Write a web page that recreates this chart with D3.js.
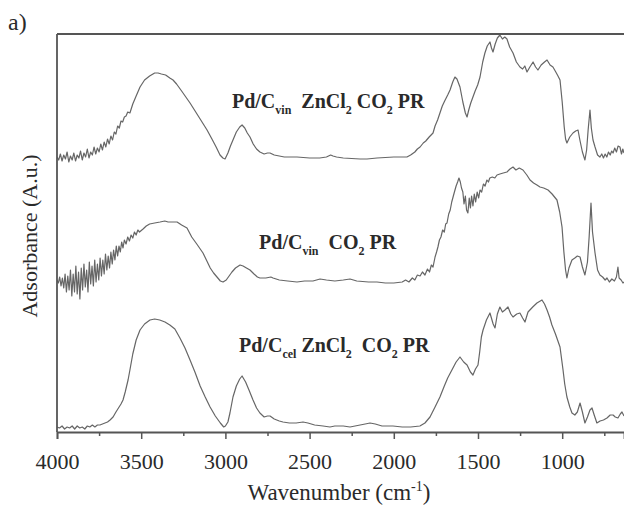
<!DOCTYPE html>
<html><head><meta charset="utf-8">
<script src="https://cdn.jsdelivr.net/npm/d3@7"></script>
<style>
html,body{margin:0;padding:0;background:#fff;}
svg{display:block;}
text{font-family:"Liberation Serif","Times New Roman",serif;fill:#2a2a2a;}
</style></head><body>
<svg id="chart" width="624" height="506"></svg>
<script>
// Wavenumber ticks
const majorTicks = [4000, 3500, 3000, 2500, 2000, 1500, 1000];
const minorTicks = [3750, 3250, 2750, 2250, 1750, 1250, 750];

// Series: [wavenumber (cm-1), absorbance (a.u., stacked)]
const seriesTop = [
[4000,2.75],[3990,2.72],[3980,2.78],[3970,2.71],[3960,2.77],[3950,2.73],[3940,2.80],[3930,2.70],[3920,2.76],[3910,2.72],[3900,2.79],[3890,2.71],[3880,2.77],[3870,2.74],[3860,2.81],[3850,2.72],[3840,2.79],[3830,2.75],[3820,2.83],[3810,2.74],[3800,2.80],[3790,2.77],[3780,2.85],[3770,2.78],[3760,2.84],[3750,2.80],[3740,2.88],[3730,2.82],[3720,2.90],[3710,2.85],[3700,2.93],[3690,2.88],[3680,2.96],[3670,2.92],[3660,3.00],[3650,2.98],[3640,3.06],[3630,3.04],[3620,3.11],[3610,3.10],[3600,3.15],[3590,3.16],[3580,3.20],[3567,3.19],[3550,3.28],[3530,3.36],[3507,3.45],[3480,3.52],[3450,3.56],[3420,3.59],[3400,3.59],[3380,3.58],[3355,3.57],[3330,3.54],[3311,3.52],[3290,3.48],[3260,3.41],[3235,3.35],[3210,3.29],[3180,3.21],[3150,3.13],[3109,3.02],[3080,2.93],[3055,2.85],[3032,2.77],[3015,2.74],[3002,2.73],[2985,2.79],[2970,2.86],[2955,2.92],[2935,3.00],[2915,3.05],[2901,3.07],[2885,3.04],[2870,2.99],[2854,2.95],[2835,2.88],[2815,2.83],[2795,2.80],[2770,2.78],[2750,2.79],[2735,2.79],[2710,2.77],[2650,2.75],[2575,2.75],[2500,2.74],[2440,2.74],[2400,2.75],[2375,2.77],[2361,2.76],[2340,2.75],[2300,2.74],[2200,2.73],[2159,2.73],[2100,2.74],[2000,2.75],[1922,2.75],[1900,2.77],[1875,2.80],[1860,2.83],[1844,2.85],[1825,2.89],[1810,2.91],[1790,2.95],[1767,2.99],[1755,3.06],[1740,3.12],[1726,3.19],[1712,3.26],[1698,3.31],[1680,3.37],[1666,3.42],[1650,3.50],[1637,3.55],[1625,3.53],[1607,3.45],[1590,3.30],[1575,3.19],[1565,3.15],[1555,3.22],[1543,3.29],[1530,3.35],[1517,3.41],[1502,3.47],[1488,3.55],[1472,3.70],[1459,3.79],[1445,3.86],[1429,3.90],[1420,3.84],[1411,3.80],[1398,3.88],[1385,3.94],[1370,3.97],[1355,3.93],[1341,3.95],[1328,3.93],[1312,3.85],[1292,3.79],[1272,3.70],[1251,3.65],[1235,3.63],[1222,3.66],[1209,3.60],[1192,3.65],[1173,3.70],[1158,3.65],[1144,3.62],[1125,3.67],[1105,3.70],[1090,3.72],[1072,3.67],[1055,3.65],[1038,3.60],[1025,3.56],[1013,3.52],[1000,3.30],[988,3.05],[980,2.93],[972,2.89],[955,2.95],[936,2.99],[920,3.01],[906,3.02],[895,2.92],[880,2.80],[865,2.72],[855,2.82],[846,3.02],[835,3.22],[827,3.04],[817,2.92],[805,2.85],[790,2.77],[776,2.75],[765,2.78],[755,2.74],[745,2.78],[735,2.75],[725,2.80],[715,2.77],[706,2.81],[698,2.79],[688,2.84],[678,2.80],[668,2.86],[657,2.85],[648,2.78],[640,2.83],[633,2.79]
];

const seriesMid = [
[4000,1.52],[3992,1.49],[3984,1.55],[3976,1.46],[3968,1.54],[3960,1.44],[3952,1.58],[3944,1.40],[3936,1.56],[3928,1.42],[3920,1.62],[3912,1.36],[3904,1.58],[3896,1.40],[3888,1.66],[3880,1.38],[3872,1.60],[3864,1.33],[3856,1.64],[3848,1.42],[3840,1.68],[3832,1.45],[3824,1.62],[3816,1.40],[3808,1.70],[3800,1.48],[3792,1.66],[3784,1.46],[3776,1.72],[3768,1.50],[3760,1.68],[3752,1.52],[3744,1.74],[3736,1.56],[3728,1.72],[3720,1.58],[3712,1.78],[3704,1.62],[3696,1.76],[3688,1.64],[3680,1.80],[3672,1.68],[3664,1.82],[3656,1.72],[3648,1.86],[3640,1.76],[3632,1.86],[3624,1.80],[3616,1.90],[3608,1.84],[3600,1.92],[3590,1.88],[3580,1.95],[3570,1.91],[3560,1.97],[3550,1.94],[3540,2.00],[3530,1.97],[3520,2.02],[3510,2.00],[3489,2.03],[3470,2.06],[3450,2.08],[3420,2.09],[3388,2.10],[3360,2.11],[3340,2.10],[3310,2.10],[3287,2.10],[3260,2.07],[3228,2.04],[3200,1.95],[3170,1.88],[3133,1.79],[3110,1.71],[3090,1.64],[3070,1.59],[3050,1.55],[3030,1.51],[3014,1.50],[2995,1.52],[2978,1.56],[2961,1.60],[2940,1.64],[2913,1.67],[2895,1.66],[2875,1.64],[2854,1.62],[2830,1.58],[2810,1.55],[2795,1.54],[2760,1.54],[2730,1.55],[2717,1.54],[2680,1.52],[2630,1.51],[2575,1.50],[2530,1.51],[2480,1.51],[2438,1.53],[2400,1.52],[2350,1.51],[2300,1.52],[2260,1.53],[2220,1.51],[2150,1.50],[2100,1.50],[2050,1.49],[2000,1.49],[1950,1.50],[1930,1.52],[1910,1.50],[1890,1.54],[1875,1.52],[1860,1.57],[1844,1.56],[1830,1.60],[1815,1.57],[1800,1.63],[1788,1.60],[1777,1.67],[1767,1.65],[1755,1.75],[1746,1.80],[1738,1.85],[1729,1.92],[1720,1.95],[1710,2.02],[1700,2.00],[1692,2.08],[1684,2.09],[1674,2.18],[1665,2.22],[1656,2.30],[1648,2.35],[1640,2.40],[1630,2.46],[1621,2.50],[1613,2.54],[1605,2.50],[1598,2.44],[1590,2.40],[1583,2.28],[1575,2.36],[1568,2.22],[1560,2.19],[1552,2.34],[1545,2.24],[1538,2.36],[1530,2.26],[1522,2.38],[1514,2.30],[1505,2.40],[1496,2.34],[1488,2.42],[1478,2.40],[1468,2.48],[1458,2.46],[1447,2.52],[1438,2.50],[1430,2.54],[1415,2.55],[1400,2.54],[1387,2.57],[1370,2.58],[1350,2.59],[1328,2.60],[1310,2.63],[1292,2.65],[1275,2.62],[1255,2.64],[1233,2.62],[1210,2.57],[1191,2.52],[1170,2.49],[1150,2.47],[1132,2.45],[1110,2.44],[1084,2.42],[1060,2.38],[1031,2.32],[1015,2.20],[1001,2.05],[990,1.80],[980,1.62],[972,1.54],[960,1.64],[942,1.72],[925,1.74],[910,1.76],[894,1.75],[880,1.65],[865,1.57],[850,1.70],[840,1.95],[829,2.29],[820,2.00],[805,1.79],[790,1.62],[776,1.57],[760,1.55],[745,1.52],[734,1.54],[720,1.50],[705,1.53],[690,1.51],[678,1.55],[669,1.65],[662,1.54],[650,1.52],[639,1.49],[633,1.50]
];

const seriesBot = [
[4000,0.05],[3985,0.04],[3970,0.06],[3955,0.03],[3940,0.05],[3925,0.04],[3910,0.06],[3895,0.03],[3880,0.06],[3865,0.04],[3850,0.05],[3835,0.03],[3820,0.06],[3805,0.05],[3790,0.07],[3775,0.05],[3760,0.07],[3745,0.07],[3730,0.08],[3715,0.09],[3700,0.10],[3685,0.12],[3667,0.15],[3650,0.20],[3635,0.24],[3620,0.28],[3608,0.32],[3595,0.40],[3578,0.52],[3567,0.62],[3550,0.78],[3530,0.92],[3507,1.02],[3480,1.08],[3448,1.12],[3420,1.13],[3390,1.12],[3359,1.10],[3330,1.07],[3300,1.03],[3270,0.94],[3240,0.84],[3210,0.72],[3181,0.60],[3150,0.46],[3120,0.35],[3091,0.25],[3060,0.16],[3030,0.09],[3010,0.05],[3000,0.06],[2985,0.10],[2973,0.19],[2955,0.35],[2935,0.46],[2915,0.53],[2901,0.56],[2880,0.50],[2860,0.42],[2836,0.32],[2815,0.24],[2795,0.19],[2770,0.15],[2750,0.16],[2735,0.16],[2710,0.13],[2680,0.11],[2658,0.10],[2620,0.09],[2580,0.09],[2539,0.10],[2510,0.09],[2470,0.07],[2420,0.06],[2379,0.05],[2350,0.06],[2300,0.06],[2260,0.05],[2230,0.06],[2200,0.07],[2170,0.08],[2141,0.09],[2110,0.08],[2070,0.06],[2040,0.06],[2005,0.06],[1950,0.05],[1900,0.05],[1845,0.06],[1815,0.09],[1785,0.15],[1755,0.25],[1726,0.35],[1700,0.46],[1680,0.54],[1655,0.62],[1630,0.70],[1607,0.75],[1585,0.70],[1565,0.67],[1545,0.60],[1530,0.57],[1515,0.63],[1500,0.67],[1490,0.80],[1480,0.95],[1470,1.02],[1450,1.12],[1429,1.19],[1410,1.08],[1399,1.04],[1385,1.18],[1370,1.25],[1355,1.20],[1340,1.22],[1322,1.25],[1305,1.18],[1292,1.15],[1270,1.18],[1251,1.19],[1235,1.14],[1221,1.10],[1203,1.20],[1175,1.25],[1150,1.29],[1120,1.32],[1105,1.28],[1090,1.22],[1075,1.15],[1061,1.07],[1040,0.98],[1013,0.85],[995,0.62],[985,0.48],[972,0.35],[955,0.25],[942,0.19],[925,0.17],[910,0.20],[894,0.29],[880,0.20],[865,0.09],[850,0.15],[835,0.22],[823,0.24],[810,0.17],[794,0.09],[775,0.11],[755,0.12],[734,0.14],[715,0.17],[698,0.17],[685,0.15],[669,0.14],[655,0.18],[645,0.20],[633,0.16]
];

const labels = [
  {parts:[["Pd/C",0],["vin",1],["\u00a0 ZnCl",0],["2",1],["\u00a0CO",0],["2",1],["\u00a0PR",0]], w:2961, a:3.24},
  {parts:[["Pd/C",0],["vin",1],["\u00a0 CO",0],["2",1],["\u00a0PR",0]], w:2800, a:1.83},
  {parts:[["Pd/C",0],["cel",1],["\u00a0ZnCl",0],["2",1],["\u00a0\u00a0CO",0],["2",1],["\u00a0PR",0]], w:2919, a:0.80}
];

const W = 624, H = 506;
const M = {left:57, top:34, right:624, bottom:432};
const svg = d3.select("#chart");

const x = d3.scaleLinear().domain([4000, 633]).range([M.left, M.right]);
const y = d3.scaleLinear().domain([0, 3.98]).range([M.bottom, M.top]);

svg.append("defs").append("clipPath").attr("id","clip")
  .append("rect").attr("x",M.left).attr("y",M.top-2).attr("width",M.right-M.left).attr("height",M.bottom-M.top+2);

const line = d3.line().x(d=>x(d[0])).y(d=>y(d[1]));
const g = svg.append("g").attr("clip-path","url(#clip)");
[seriesTop, seriesMid, seriesBot].forEach(s=>{
  g.append("path").datum(s).attr("d",line)
   .attr("fill","none").attr("stroke","#666").attr("stroke-width",1.2)
   .attr("stroke-linejoin","round");
});

// frame: top and left
svg.append("line").attr("x1",M.left).attr("x2",W).attr("y1",M.top).attr("y2",M.top)
  .attr("stroke","#555").attr("stroke-width",1.8);
svg.append("line").attr("x1",M.left).attr("x2",M.left).attr("y1",M.top).attr("y2",M.bottom)
  .attr("stroke","#555").attr("stroke-width",1.8);

// x axis
const ax = svg.append("g").attr("transform",`translate(0,${M.bottom})`)
  .call(d3.axisBottom(x).tickValues(majorTicks).tickSize(7).tickPadding(14).tickFormat(d3.format("d")));
ax.select(".domain").attr("stroke","#555").attr("stroke-width",1.8);
ax.selectAll(".tick line").attr("stroke","#555").attr("stroke-width",1.5);
ax.selectAll(".tick text").attr("font-size",22).attr("font-family","Liberation Serif, Times New Roman, serif").attr("fill","#2a2a2a");
const axm = svg.append("g").attr("transform",`translate(0,${M.bottom})`)
  .call(d3.axisBottom(x).tickValues(minorTicks).tickSize(4).tickFormat(""));
axm.select(".domain").remove();
axm.selectAll(".tick line").attr("stroke","#555").attr("stroke-width",1.5);

// axis titles
const xt = svg.append("text").attr("x",339).attr("y",500).attr("text-anchor","middle").attr("font-size",23);
xt.append("tspan").text("Wavenumber (cm");
xt.append("tspan").attr("dy",-9).attr("font-size",14).text("-1");
xt.append("tspan").attr("dy",9).text(")");

svg.append("text").attr("transform","translate(37,236) rotate(-90)")
  .attr("text-anchor","middle").attr("font-size",22).text("Adsorbance (A.u.)");

svg.append("text").attr("x",8).attr("y",30).attr("font-size",24).text("a)");

// sample labels
labels.forEach(L=>{
  const t = svg.append("text").attr("x",x(L.w)).attr("y",y(L.a))
    .attr("font-size",20).attr("font-weight","bold");
  let sub = false;
  L.parts.forEach(([s,isSub])=>{
    const ts = t.append("tspan").text(s);
    if (isSub && !sub){ ts.attr("dy",6).attr("font-size",12); sub=true; }
    else if (!isSub && sub){ ts.attr("dy",-6); sub=false; }
    else if (isSub) ts.attr("font-size",12);
  });
});
</script>
</body></html>
